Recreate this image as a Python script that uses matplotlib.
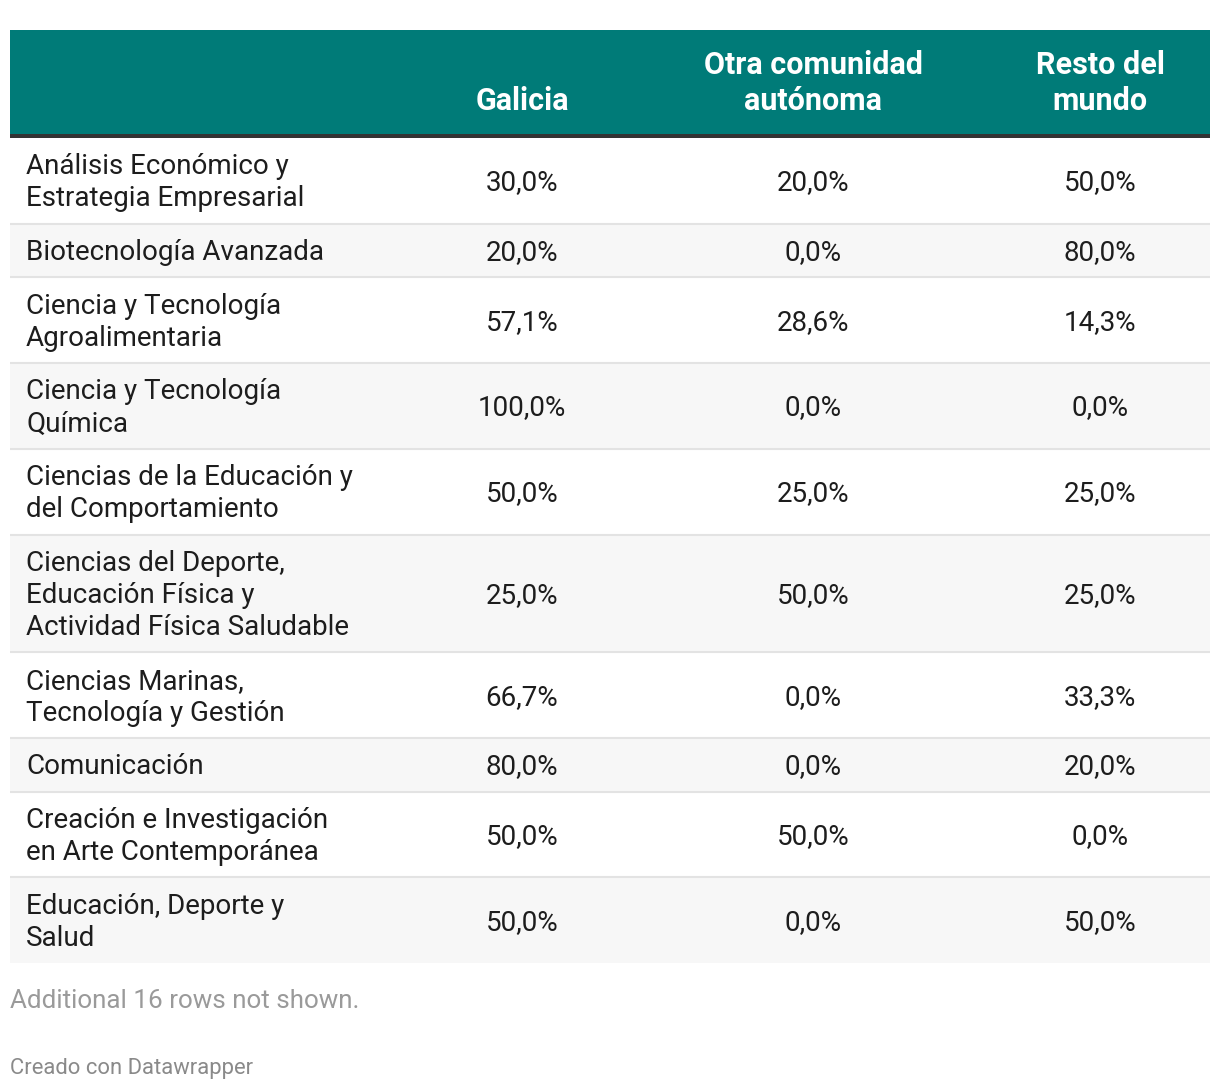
"""
tabla de movilidad por programa de doctorado (Datawrapper)
"""

import numpy as np
import matplotlib.pyplot as plt
from matplotlib.patches import Rectangle

## datos

programas = [
    ["Análisis Económico y", "Estrategia Empresarial"],
    ["Biotecnología Avanzada"],
    ["Ciencia y Tecnología", "Agroalimentaria"],
    ["Ciencia y Tecnología", "Química"],
    ["Ciencias de la Educación y", "del Comportamiento"],
    ["Ciencias del Deporte,", "Educación Física y", "Actividad Física Saludable"],
    ["Ciencias Marinas,", "Tecnología y Gestión"],
    ["Comunicación"],
    ["Creación e Investigación", "en Arte Contemporánea"],
    ["Educación, Deporte y", "Salud"],
]
columnas = [["Galicia"], ["Otra comunidad", "autónoma"], ["Resto del", "mundo"]]
galicia = [30.0, 20.0, 57.1, 100.0, 50.0, 25.0, 66.7, 80.0, 50.0, 50.0]
otra_comunidad = [20.0, 0.0, 28.6, 0.0, 25.0, 50.0, 0.0, 0.0, 50.0, 0.0]
resto_mundo = [50.0, 80.0, 14.3, 0.0, 25.0, 25.0, 33.3, 20.0, 0.0, 50.0]
nota = "Additional 16 rows not shown."
fuente = "Creado con Datawrapper"

## dibujo

W, H = 1220, 1090
fig = plt.figure(figsize=(W/100, H/100), dpi=100)
ax = fig.add_axes([0, 0, 1, 1])
ax.set_xlim(0, W)
ax.set_ylim(H, 0)
ax.axis('off')

fam = ['Roboto', 'DejaVu Sans']
fs = 20
x0, x1 = 10, 1210
col_x = [522, 813, 1100]
line_h = 32
pad = 10.85
base_off = 9.5  # centre des capitales -> ligne de base

# cabecera
head_top, head_bot = 30, 134
ax.add_patch(Rectangle((x0, head_top), x1-x0, head_bot-head_top, facecolor='#007B78', edgecolor='none'))
ax.add_patch(Rectangle((x0, head_bot), x1-x0, 4, facecolor='#333333', edgecolor='none'))
for cx, lines in zip(col_x, columnas):
    for i, txt in enumerate(lines):
        y = 110 - (len(lines)-1-i)*36
        ax.text(cx, y, txt, ha='center', va='baseline', color='white', fontsize=22, fontweight='bold', family=fam)

def fmt(v):
    return "{:.1f}%".format(v).replace('.', ',')

y = head_bot + 4
for r, lines in enumerate(programas):
    h = len(lines)*line_h + 2*pad
    if r % 2 == 1:
        ax.add_patch(Rectangle((x0, y), x1-x0, h, facecolor='#F7F7F7', edgecolor='none'))
    if r > 0:
        ax.plot([x0, x1], [y, y], color='#E3E3E3', lw=1.5, solid_capstyle='butt')
    yc = y + h/2
    for i, txt in enumerate(lines):
        ly = yc + base_off + (i - (len(lines)-1)/2)*line_h
        ax.text(26, ly, txt, ha='left', va='baseline', color='#1d1d1d', fontsize=fs, family=fam)
    for cx, serie in zip(col_x, [galicia, otra_comunidad, resto_mundo]):
        ax.text(cx, yc + base_off, fmt(serie[r]), ha='center', va='baseline', color='#1d1d1d', fontsize=fs, family=fam)
    y += h

ax.text(10, 1008, nota, ha='left', va='baseline', color='#9a9a9a', fontsize=18.7, family=fam)
ax.text(10, 1074, fuente, ha='left', va='baseline', color='#8a8a8a', fontsize=15.8, family=fam)

plt.savefig('out.png', dpi=100)
